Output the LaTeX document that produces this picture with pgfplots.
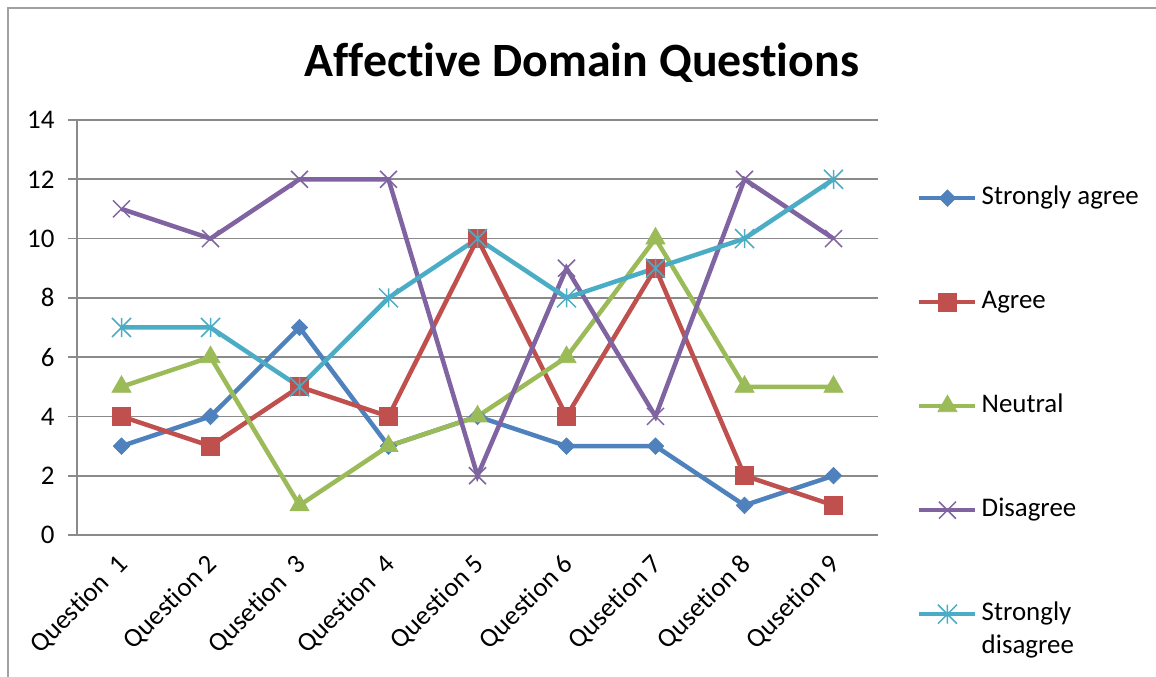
\documentclass[border=0pt]{standalone}
\usepackage{fontspec}
\setmainfont{Carlito}[Ligatures=NoCommon]
\usepackage{pgfplots}
\pgfplotsset{compat=1.18}
\definecolor{csa}{HTML}{4F81BD}
\definecolor{cag}{HTML}{C0504D}
\definecolor{cne}{HTML}{9BBB59}
\definecolor{cdi}{HTML}{8064A2}
\definecolor{csd}{HTML}{4BACC6}
\definecolor{gridc}{HTML}{8A8A8A}
\pgfdeclareplotmark{xstar}{%
  \pgfpathmoveto{\pgfqpoint{-\pgfplotmarksize}{-\pgfplotmarksize}}%
  \pgfpathlineto{\pgfqpoint{\pgfplotmarksize}{\pgfplotmarksize}}%
  \pgfpathmoveto{\pgfqpoint{-\pgfplotmarksize}{\pgfplotmarksize}}%
  \pgfpathlineto{\pgfqpoint{\pgfplotmarksize}{-\pgfplotmarksize}}%
  \pgfpathmoveto{\pgfqpoint{0pt}{-\pgfplotmarksize}}%
  \pgfpathlineto{\pgfqpoint{0pt}{\pgfplotmarksize}}%
  \pgfusepathqstroke}
\begin{document}
\begin{tikzpicture}[x=1bp,y=1bp]
\useasboundingbox (0,0) rectangle (1156,677);
\draw[draw=gridc!80, line width=1.5bp] (8,0) -- (8,669) -- (1156,669);
\node[font=\fontsize{48}{58}\selectfont\bfseries, anchor=base, inner sep=0pt] at (582,600) {Affective Domain Questions};
\begin{axis}[
  at={(77bp,142bp)}, anchor=south west,
  scale only axis, width=801bp, height=415bp,
  xmin=0.5, xmax=9.5, ymin=0, ymax=14,
  xtick={1,...,9},
  xticklabels={Question~ 1, Question 2, Qusetion~ 3, Question~ 4, Question 5, Question 6, Qusetion 7, Qusetion 8, Qusetion 9},
  ytick={0,2,...,14},
  axis x line*=bottom, axis y line*=left,
  axis line style={draw=gridc, line width=1.8bp, -},
  ymajorgrids, grid style={draw=gridc, line width=1.8bp},
  tick align=outside, major tick length=9bp,
  xtick style={draw=none},
  ytick style={draw=gridc, line width=1.8bp},
  tick label style={font=\fontsize{27}{32}\selectfont},
  /pgf/number format/assume math mode=true,
  xticklabel style={rotate=45, anchor=east, yshift=-13.3bp, xshift=-6.6bp},
  yticklabel style={xshift=-10bp},
  clip=false,
  legend image code/.code={\draw[mark repeat=2,mark phase=2,#1] plot coordinates {(0bp,0bp) (28bp,0bp) (56bp,0bp)};},
  legend cell align=left,
  legend style={at={(1.0487,0.8458)}, anchor=north west, draw=none, fill=none, inner sep=0pt,
    row sep=76bp, column sep=2bp, font=\fontsize{27}{33}\selectfont,
    nodes={inner sep=2bp, text height=18bp, text depth=6bp}},
]
\addplot[color=csa, line width=4.5bp, mark=square*, mark size=5.8bp, mark options={solid, rotate=45, fill=csa, draw=csa, line width=0.75bp}]
  coordinates {(1,3) (2,4) (3,7) (4,3) (5,4) (6,3) (7,3) (8,1) (9,2)};
\addplot[color=cag, line width=4.5bp, mark=square*, mark size=9bp, mark options={solid, fill=cag, draw=cag, line width=0.75bp}]
  coordinates {(1,4) (2,3) (3,5) (4,4) (5,10) (6,4) (7,9) (8,2) (9,1)};
\addplot[color=cne, line width=4.5bp, mark=triangle*, mark size=11bp, mark options={solid, fill=cne, draw=cne, line width=0.75bp}]
  coordinates {(1,5) (2,6) (3,1) (4,3) (5,4) (6,6) (7,10) (8,5) (9,5)};
\addplot[color=cdi, line width=4.5bp, mark=x, mark size=12bp, mark options={solid, draw=cdi, line width=1.5bp}]
  coordinates {(1,11) (2,10) (3,12) (4,12) (5,2) (6,9) (7,4) (8,12) (9,10)};
\addplot[color=csd, line width=4.5bp, mark=xstar, mark size=9.5bp, mark options={solid, draw=csd, line width=1.5bp}]
  coordinates {(1,7) (2,7) (3,5) (4,8) (5,10) (6,8) (7,9) (8,10) (9,12)};
\legend{Strongly agree, Agree, Neutral, Disagree, {\begin{tabular}[t]{@{}l@{}}Strongly\\disagree\end{tabular}}}
\end{axis}
\end{tikzpicture}
\end{document}
